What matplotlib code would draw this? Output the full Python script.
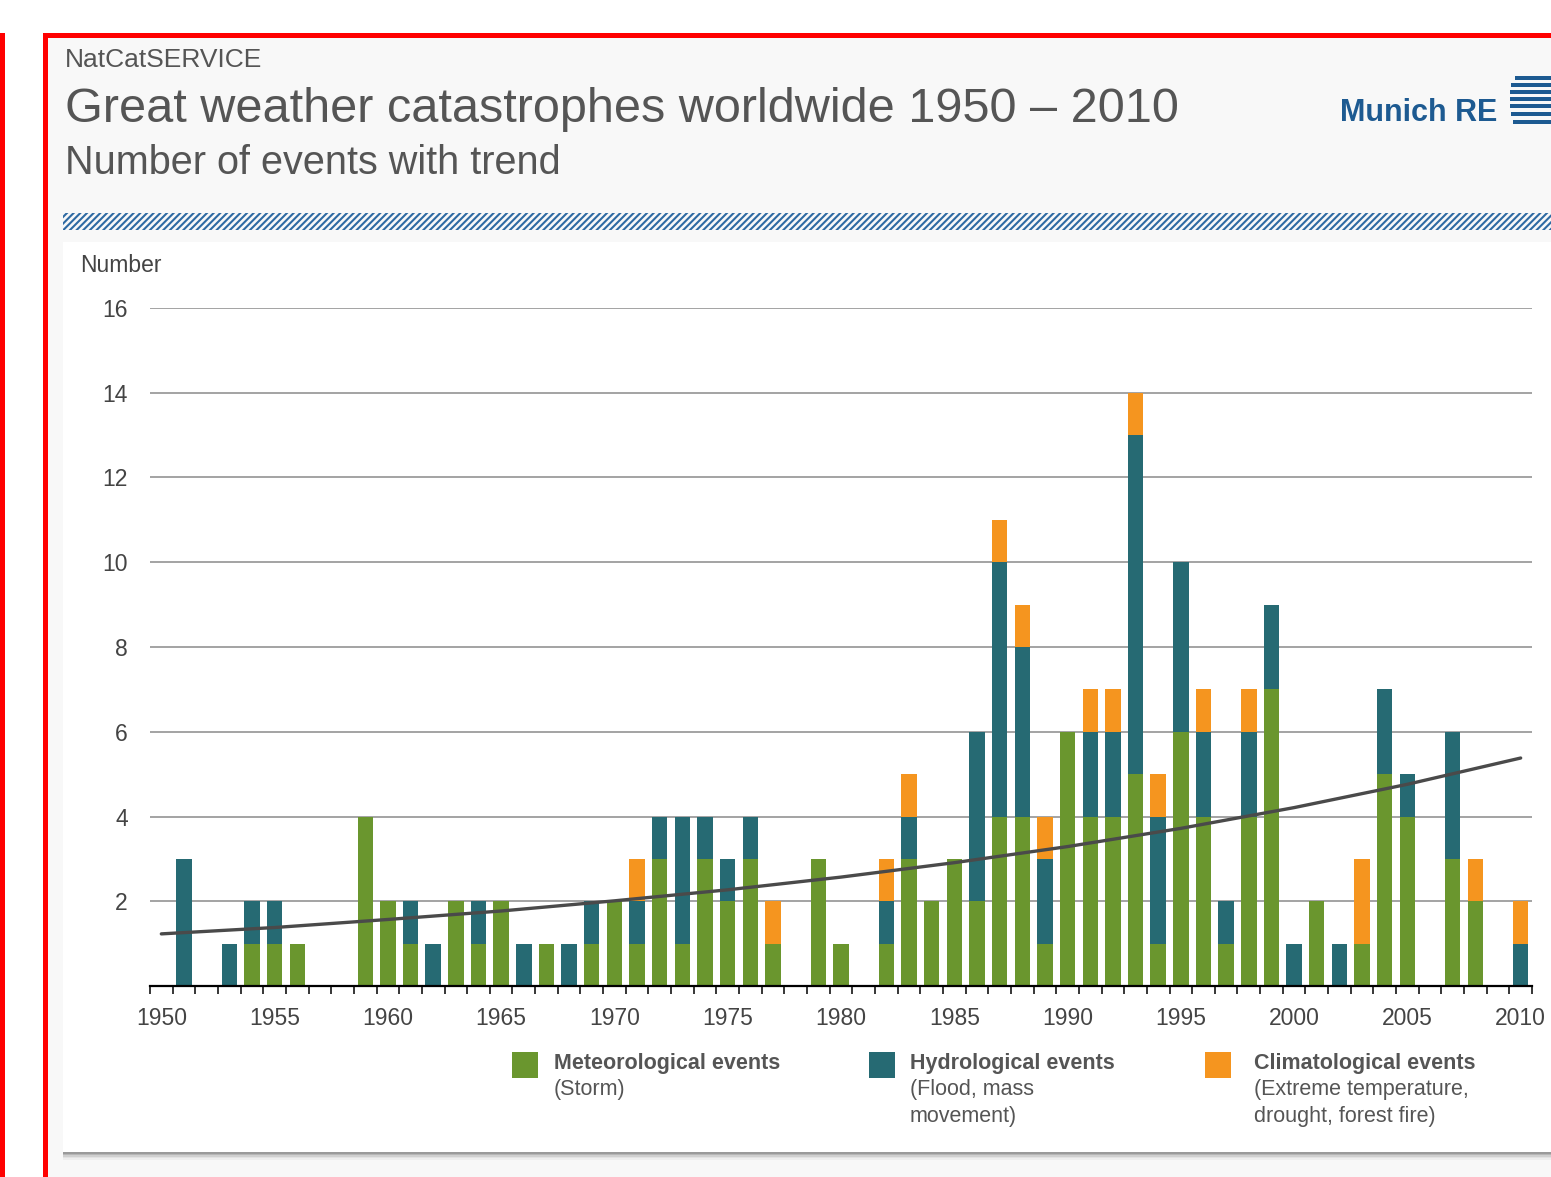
import numpy as np
import matplotlib.pyplot as plt
from matplotlib.patches import Rectangle

plt.rcParams['font.family'] = ['Liberation Sans', 'DejaVu Sans']
plt.rcParams['hatch.linewidth'] = 1.5

# data
years = list(range(1950, 2011))
meteo = [0, 0, 0, 0, 1, 1, 1, 0, 0, 4,
         2, 1, 0, 2, 1, 2, 0, 1, 0, 1,
         2, 1, 3, 1, 3, 2, 3, 1, 0, 3,
         1, 0, 1, 3, 2, 3, 2, 4, 4, 1,
         6, 4, 4, 5, 1, 6, 4, 1, 4, 7,
         0, 2, 0, 1, 5, 4, 0, 3, 2, 0,
         0]
hydro = [0, 3, 0, 1, 1, 1, 0, 0, 0, 0,
         0, 1, 1, 0, 1, 0, 1, 0, 1, 1,
         0, 1, 1, 3, 1, 1, 1, 0, 0, 0,
         0, 0, 1, 1, 0, 0, 4, 6, 4, 2,
         0, 2, 2, 8, 3, 4, 2, 1, 2, 2,
         1, 0, 1, 0, 2, 1, 0, 3, 0, 0,
         1]
clima = [0, 0, 0, 0, 0, 0, 0, 0, 0, 0,
         0, 0, 0, 0, 0, 0, 0, 0, 0, 0,
         0, 1, 0, 0, 0, 0, 0, 1, 0, 0,
         0, 0, 1, 1, 0, 0, 0, 1, 1, 1,
         0, 1, 1, 1, 1, 0, 1, 0, 1, 0,
         0, 0, 0, 2, 0, 0, 0, 0, 1, 0,
         1]
trend_years = [1950, 1955, 1960, 1965, 1970, 1975, 1980, 1985, 1990, 1995, 2000, 2005, 2010]
trend_vals = [1.23, 1.38, 1.57, 1.77, 2.01, 2.27, 2.57, 2.91, 3.29, 3.72, 4.21, 4.76, 5.38]
year_ticks = list(range(1950, 2011, 5))
y_ticks = list(range(2, 17, 2))

labels = ['Meteorological events', 'Hydrological events', 'Climatological events']
sublabels = ['(Storm)', '(Flood, mass\nmovement)', '(Extreme temperature,\ndrought, forest fire)']
colors = ['#6a962e', '#266a73', '#f5951f']

W, H = 1551, 1177
fig = plt.figure(figsize=(W / 100, H / 100), dpi=100)
fig.patch.set_facecolor('white')

# background / frame layer in pixel coordinates
bg = fig.add_axes([0, 0, 1, 1], zorder=0)
bg.set_xlim(0, W)
bg.set_ylim(H, 0)
bg.axis('off')
bg.add_patch(Rectangle((0, 33), 5, H - 33, color='#ff0000', lw=0))
bg.add_patch(Rectangle((43, 33), W - 43, H - 33, facecolor='#f8f8f8', lw=0))
bg.add_patch(Rectangle((43, 33), W - 43, 5, color='#ff0000', lw=0))
bg.add_patch(Rectangle((43, 33), 5, H - 33, color='#ff0000', lw=0))
# shadow under the panel
for i, c in enumerate(['#9a9a9a', '#b5b5b5', '#cfcfcf', '#e2e2e2', '#eeeeee']):
    bg.add_patch(Rectangle((63, 1152 + i * 1.5), W - 63, 1.5, color=c, lw=0))
bg.add_patch(Rectangle((63, 242), W - 63, 910, facecolor='white', lw=0))
# hatched strip
bg.add_patch(Rectangle((63, 213), W - 63, 17, facecolor='none', edgecolor='#2e6aa3',
                       hatch='/////', lw=0))
# logo stripes
for yy, x0 in zip([78, 85, 92, 99, 106, 114, 122], [1515, 1511, 1510, 1510, 1510, 1511, 1513]):
    bg.add_patch(Rectangle((x0, yy - 2), W - x0, 4, color='#1d5a91', lw=0))

fig.text(65 / W, 1 - 60 / H, 'NatCatSERVICE', fontsize=19, color='#555555', va='center')
fig.text(65 / W, 1 - 109 / H, 'Great weather catastrophes worldwide 1950 \u2013 2010',
         fontsize=35, color='#555555', va='center')
fig.text(65 / W, 1 - 163 / H, 'Number of events with trend', fontsize=28.5, color='#555555', va='center')
fig.text(1497 / W, 1 - 113 / H, 'Munich RE', fontsize=22, fontweight='bold', color='#1d5a91',
         va='center', ha='right')
fig.text(80 / W, 1 - 265 / H, 'Number', fontsize=16.5, color='#444444', va='center')

# main chart
ax = fig.add_axes([150 / W, 1 - 986 / H, 1382 / W, 678 / H], zorder=1)
ax.patch.set_alpha(0)
x = np.array(years)
m = np.array(meteo)
h = np.array(hydro)
c = np.array(clima)
ax.bar(x, m, width=0.68, color=colors[0], zorder=2)
ax.bar(x, h, width=0.68, bottom=m, color=colors[1], zorder=2)
ax.bar(x, c, width=0.68, bottom=m + h, color=colors[2], zorder=2)
ax.plot(trend_years, trend_vals, color='#4a4a4a', lw=2.4, zorder=3, solid_capstyle='round')

ax.set_xlim(1949.5, 2010.5)
ax.set_ylim(0, 16)
ax.set_yticks(y_ticks)
ax.set_xticks(year_ticks)
ax.set_xticks(np.arange(1949.5, 2011, 1), minor=True)
ax.tick_params(axis='x', which='major', length=0, pad=15, labelsize=16.5, labelcolor='#444444')
ax.tick_params(axis='x', which='minor', length=6, width=1.1, color='black', direction='out')
ax.tick_params(axis='y', length=0, pad=16, labelsize=16.5, labelcolor='#444444')
ax.yaxis.grid(True, color='#8a8a8a', lw=1.1, zorder=0)
ax.set_axisbelow(True)
for s in ['top', 'right', 'left']:
    ax.spines[s].set_visible(False)
ax.spines['bottom'].set_linewidth(1.6)
ax.spines['bottom'].set_color('black')

# legend drawn by hand
lx = [512, 869, 1205]
tx = [554, 910, 1254]
for i in range(3):
    bg.add_patch(Rectangle((lx[i], 1052), 26, 26, color=colors[i], lw=0))
    fig.text(tx[i] / W, 1 - 1063 / H, labels[i], fontsize=15.5, fontweight='bold',
             color='#555555', va='center')
    fig.text(tx[i] / W, 1 - 1079 / H, sublabels[i], fontsize=15.5, color='#555555',
             va='top', linespacing=1.38)

fig.savefig('out.png', dpi=100)
